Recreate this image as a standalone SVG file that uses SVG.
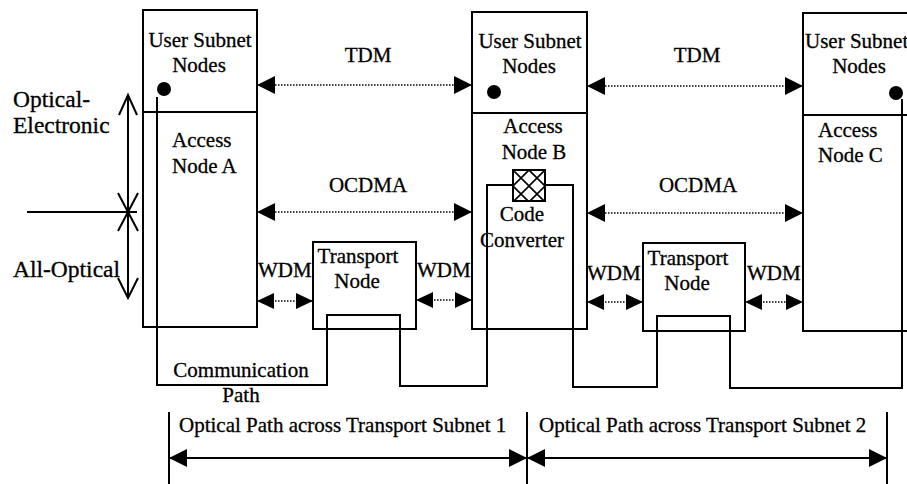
<svg xmlns="http://www.w3.org/2000/svg" width="907" height="484" viewBox="0 0 907 484">
<style>
text{font-family:"Liberation Serif","Times New Roman",serif;font-size:21px;fill:#000;stroke:#000;stroke-width:0.3}
.m{text-anchor:middle}
.big{font-size:23.5px}
.box{fill:#fff;stroke:#000;stroke-width:2}
.ln{fill:none;stroke:#000;stroke-width:2}
.dot{fill:none;stroke:#000;stroke-width:1.6;stroke-dasharray:1.5 1.5}
.arr{marker-start:url(#ah);marker-end:url(#ah)}
.sarr{marker-start:url(#ahs);marker-end:url(#ahs)}
</style>
<defs>
<marker id="ah" markerUnits="userSpaceOnUse" markerWidth="18" markerHeight="18" viewBox="0 0 18 18" refX="18" refY="9" orient="auto-start-reverse"><path d="M0,0L18,9L0,18z" fill="#000"/></marker>
<marker id="ahs" markerUnits="userSpaceOnUse" markerWidth="17" markerHeight="16" viewBox="0 0 17 16" refX="17" refY="8" orient="auto-start-reverse"><path d="M0,0L17,8L0,16z" fill="#000"/></marker>
<pattern id="hatch" patternUnits="userSpaceOnUse" x="513" y="170" width="16" height="16"><path d="M0,0L16,16M16,0L0,16" stroke="#000" stroke-width="1.6"/></pattern>
</defs>

<g id="accessA">
<rect class="box" x="143" y="10" width="114" height="317"/>
<line class="ln" x1="143" y1="112" x2="257" y2="112"/>
<circle cx="164" cy="89" r="7"/>
<text class="m" x="200" y="47">User Subnet</text>
<text class="m" x="199" y="72">Nodes</text>
<text x="172" y="147">Access</text>
<text x="172" y="173">Node A</text>
</g>

<g id="accessB">
<rect class="box" x="472" y="12" width="115" height="317"/>
<line class="ln" x1="472" y1="113" x2="587" y2="113"/>
<circle cx="494" cy="92" r="7"/>
<text class="m" x="530" y="48">User Subnet</text>
<text class="m" x="529" y="73">Nodes</text>
<text class="m" x="533" y="133">Access</text>
<text class="m" x="534" y="159">Node B</text>
</g>

<g id="accessC">
<rect class="box" x="803" y="13" width="114" height="318"/>
<line class="ln" x1="803" y1="115" x2="907" y2="115"/>
<circle cx="896" cy="93" r="7"/>
<text x="805" y="48">User Subnet</text>
<text class="m" x="859" y="73">Nodes</text>
<text x="818" y="137">Access</text>
<text x="818" y="162">Node C</text>
</g>

<g id="transport1">
<rect class="box" x="313" y="242" width="103" height="87"/>
<text class="m" x="358" y="263">Transport</text>
<text class="m" x="357" y="288">Node</text>
</g>

<g id="transport2">
<rect class="box" x="643" y="243" width="102" height="88"/>
<text class="m" x="688" y="265">Transport</text>
<text class="m" x="687" y="290">Node</text>
</g>

<g id="connectors">
<polyline class="ln" points="157,97 157,385 327,385 327,315 400,315 400,386 487,386 487,185 513,185"/>
<polyline class="ln" points="545,185 573,185 573,387 657,387 657,316 730,316 730,388 902,388 902,99"/>
<line class="dot arr" x1="257" y1="85" x2="472" y2="85"/>
<line class="dot arr" x1="587" y1="86" x2="803" y2="86"/>
<line class="dot arr" x1="257" y1="212" x2="472" y2="212"/>
<line class="dot arr" x1="587" y1="213" x2="803" y2="213"/>
<line class="dot sarr" x1="257" y1="301" x2="313" y2="301"/>
<line class="dot sarr" x1="416" y1="300" x2="472" y2="300"/>
<line class="dot sarr" x1="587" y1="302" x2="643" y2="302"/>
<line class="dot sarr" x1="745" y1="302" x2="803" y2="302"/>
<line class="ln" x1="27" y1="212" x2="137" y2="212"/>
<line class="ln" x1="128" y1="95" x2="128" y2="298"/>
<polyline class="ln" points="119,115 128,95 137,115"/>
<polyline class="ln" points="118,193 128,212 138,193"/>
<polyline class="ln" points="118,231 128,212 138,231"/>
<polyline class="ln" points="118,278 128,298 138,278"/>
<line class="ln" x1="169" y1="412" x2="169" y2="484"/>
<line class="ln" x1="527" y1="412" x2="527" y2="484"/>
<line class="ln" x1="887" y1="412" x2="887" y2="484"/>
<line class="ln arr" x1="169" y1="458" x2="527" y2="458"/>
<line class="ln arr" x1="527" y1="458" x2="887" y2="458"/>
</g>

<g id="codeConverter">
<rect x="513" y="170" width="32" height="31" fill="url(#hatch)" stroke="#000" stroke-width="2"/>
<text class="m" x="522" y="221">Code</text>
<text class="m" x="522" y="247">Converter</text>
</g>

<g id="labels">
<text class="m" x="368" y="62">TDM</text>
<text class="m" x="697" y="62">TDM</text>
<text class="m" x="368" y="192">OCDMA</text>
<text class="m" x="698" y="192">OCDMA</text>
<text x="258" y="277">WDM</text>
<text x="417" y="277">WDM</text>
<text x="587" y="280">WDM</text>
<text x="747" y="280">WDM</text>
<text class="big" x="13" y="107">Optical-</text>
<text class="big" x="13" y="133">Electronic</text>
<text class="big" x="13" y="277">All-Optical</text>
<text class="m" x="241" y="377">Communication</text>
<text class="m" x="241" y="402">Path</text>
<text x="179" y="432">Optical Path across Transport Subnet 1</text>
<text x="539" y="432">Optical Path across Transport Subnet 2</text>
</g>
</svg>
